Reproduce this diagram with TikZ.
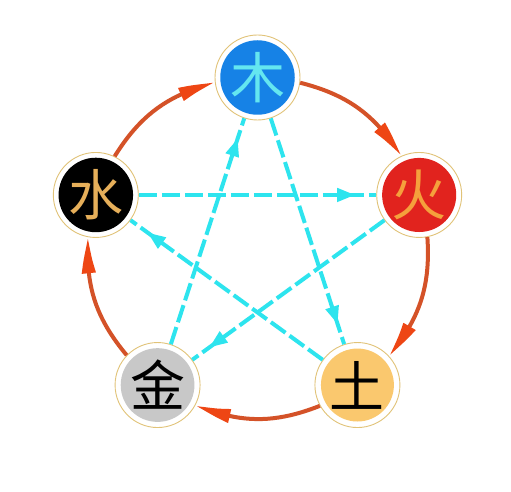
\documentclass[tikz,border=0pt]{standalone}
\usepackage{fontspec}
\newfontfamily\cjk{Noto Sans CJK SC}
\usetikzlibrary{arrows.meta,bending,decorations.markings}
\definecolor{ringc}{RGB}{225,195,120}
\definecolor{mublue}{RGB}{22,130,230}
\definecolor{mutext}{RGB}{100,230,240}
\definecolor{huored}{RGB}{225,35,30}
\definecolor{huotext}{RGB}{245,160,60}
\definecolor{tufill}{RGB}{250,200,110}
\definecolor{jinfill}{RGB}{200,200,200}
\definecolor{shuitext}{RGB}{230,175,90}
\definecolor{orline}{RGB}{212,82,40}
\definecolor{orhead}{RGB}{238,70,20}
\definecolor{cyanl}{RGB}{45,228,238}
\begin{document}
\begin{tikzpicture}[x=1pt,y=1pt,
  ringnode/.style={circle,draw=ringc,line width=0.9pt,fill=white,minimum size=85pt,inner sep=0pt},
  disc/.style={circle,minimum size=70pt,inner sep=0pt,font=\cjk\fontsize{55}{55}\selectfont},
  shengarc/.style={draw=orline,line width=4pt,-{Triangle[length=38pt,width=13pt,color=orhead,bend]}},
  kearrow/.style={draw=cyanl,line width=4pt,dash pattern=on 18pt off 5pt,
    decoration={markings,mark=at position -21pt with {\arrow{Triangle[length=18pt,width=13pt,color=cyanl]}}},
    postaction={decorate}}]
\useasboundingbox (0,0) rectangle (511,492);
\fill[white] (0,0) rectangle (511,492);
\begin{scope}[shift={(257.5,244.5)}]
\node[ringnode] (mu) at (90:170pt) {};
\node[ringnode] (huo) at (18:170pt) {};
\node[ringnode] (tu) at (-54:170pt) {};
\node[ringnode] (jin) at (-126:170pt) {};
\node[ringnode] (shui) at (162:170pt) {};
\end{scope}
\node[disc,fill=mublue,text=mutext] (mu-in) at (mu) {木};
\node[disc,fill=huored,text=huotext] (huo-in) at (huo) {火};
\node[disc,fill=tufill,text=black] (tu-in) at (tu) {土};
\node[disc,fill=jinfill,text=black] (jin-in) at (jin) {金};
\node[disc,fill=black,text=shuitext] (shui-in) at (shui) {水};
% generating cycle
\draw[shengarc] (mu.-7.1) to[bend left=21.8] (huo.115.1);
\draw[shengarc] (huo.-79.1) to[bend left=21.8] (tu.43.1);
\draw[shengarc] (tu.-151.1) to[bend left=21.8] (jin.-28.9);
\draw[shengarc] (jin.136.9) to[bend left=21.8] (shui.-100.9);
\draw[shengarc] (shui.64.9) to[bend left=21.8] (mu.187.1);
% controlling cycle
\draw[kearrow] (mu) -- (tu);
\draw[kearrow] (tu) -- (shui);
\draw[kearrow] (shui) -- (huo);
\draw[kearrow] (huo) -- (jin);
\draw[kearrow] (jin) -- (mu);
\end{tikzpicture}
\end{document}
